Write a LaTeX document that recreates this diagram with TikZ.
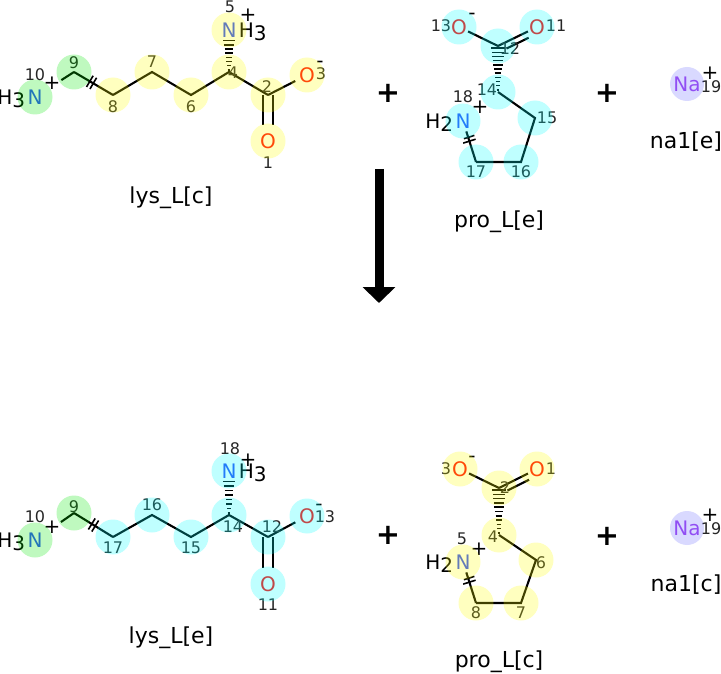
\documentclass[tikz,border=0pt]{standalone}
\usepackage{fontspec}
\setmainfont{DejaVu Sans}
\usetikzlibrary{positioning,calc,arrows.meta,decorations.markings}

\definecolor{nblue}{RGB}{48,80,248}
\definecolor{ored}{RGB}{255,13,13}
\definecolor{napurple}{RGB}{171,92,242}
\definecolor{hlyellow}{RGB}{255,255,0}
\definecolor{hlcyan}{RGB}{0,255,255}
\definecolor{hlgreen}{RGB}{0,230,0}
\definecolor{hlblue}{RGB}{0,0,255}

\newcommand\atomfont{\fontsize{20}{24}\selectfont}
\newcommand\numfont{\fontsize{16}{19}\selectfont}
\newcommand\capfont{\fontsize{22}{26}\selectfont}
\newcommand\bigplusfont{\fontsize{29}{34}\selectfont\bfseries}

% hashed wedge: narrow end, wide end, half width, number of hashes
\newcommand\hashbond[4]{%
  \foreach \i in {1,...,#4} {
    \pgfmathsetmacro\hpos{(\i-0.5)/#4}
    \pgfmathsetmacro\hw{1+(#3-1)*\hpos}
    \draw[hash] ($(#1)!\hpos!(#2)!\hw pt!90:(#2)$) -- ($(#1)!\hpos!(#2)!\hw pt!-90:(#2)$);
  }}

\tikzset{
  bond/.style={line width=2.1pt},
  hash/.style={line width=1.5pt},
  atom/.style={inner sep=1pt, font=\atomfont},
  hyd/.style={inner sep=1pt, font=\atomfont},
  charge/.style={inner sep=0pt, font=\atomfont},
  num/.style={inner sep=0pt, font=\numfont, text=black!85},
  caption/.style={inner sep=0pt, font=\capfont},
  bigplus/.style={inner sep=0pt, font=\bigplusfont},
  hl/.style={fill=#1, fill opacity=0.25},
  cutmark/.style={postaction=decorate, decoration={markings,
    mark=at position #1 with {\draw[line width=1.6pt] (-2pt,-6.5pt) -- (-2pt,6.5pt) (2pt,-6.5pt) -- (2pt,6.5pt);}}},
  reaction/.style={line width=9pt, -{Triangle[width=32pt,length=16pt]}},
}

\begin{document}
\begin{tikzpicture}[x=1pt,y=-1pt]
    \useasboundingbox (0,0) rectangle (721,674);

    % lys_L[c]
    \coordinate (lc9) at (74,72);
    \coordinate (lc8) at (113,95);
    \coordinate (lc7) at (152,72);
    \coordinate (lc6) at (191,95);
    \coordinate (lc4) at (229,72);
    \coordinate (lc2) at (268,95);
    \node[atom, text=nblue] (lc10) at (35,97) {N};
    \node[hyd, base left=0pt of lc10] (lc10h) {H\raisebox{-3.5pt}{3}};
    \node[atom, text=nblue] (lc5) at (229,30) {N};
    \node[hyd, base right=0pt of lc5] (lc5h) {H\raisebox{-3.5pt}{3}};
    \node[atom, text=ored] (lc3) at (307,75) {O};
    \node[atom, text=ored] (lc1) at (268,141) {O};
    \draw[bond, double, double distance=8pt, shorten >=7pt] (lc2) -- (lc1);
    \draw[bond, shorten >=21pt] (lc9) -- (lc10);
    \draw[bond, cutmark=0.45] (lc9) -- (lc8);
    \draw[bond] (lc8) -- (lc7) -- (lc6) -- (lc4) -- (lc2);
    \draw[bond, shorten >=3pt] (lc2) -- (lc3);
    \hashbond{lc4}{lc5.south}{6}{8}
    \foreach \n/\x/\y in {10/35/75, 9/74/63, 8/113/107, 7/152/62, 6/191/107,
                          4/233/73, 5/230/7, 2/267/87, 3/321/74, 1/268/163}
        \node[num] (lcn\n) at (\x,\y) {\n};
    \node[charge] (lc10c) at (52,83) {+};
    \node[charge] (lc5c) at (248,15) {+};
    \node[charge] (lc3c) at (320,64) {-};
    \node[caption] (lcname) at (171,198) {lys\_L[c]};

    % pro_L[e]
    \coordinate (pe12) at (498,46);
    \coordinate (pe14) at (498,92);
    \coordinate (pe15) at (535,118);
    \coordinate (pe16) at (521,162);
    \coordinate (pe17) at (476,162);
    \node[atom, text=ored] (pe13) at (459,27) {O};
    \node[atom, text=ored] (pe11) at (537,27) {O};
    \node[atom, text=nblue] (pe18) at (463,121) {N};
    \node[hyd, base left=0pt of pe18] (pe18h) {H\raisebox{-3.5pt}{2}};
    \draw[bond] (pe12) -- (pe13);
    \draw[bond] (pe12) -- (pe11);
    \draw[bond] ($(pe12)!0.15!(pe11)!6pt!-90:(pe11)$) -- ($(pe12)!0.72!(pe11)!6pt!-90:(pe11)$);
    \hashbond{pe14}{pe12}{7}{11}
    \draw[bond] (pe14) -- (pe15) -- (pe16) -- (pe17);
    \draw[bond, cutmark=0.7, shorten >=2pt] (pe17) -- (pe18);
    \foreach \n/\x/\y in {13/441/26, 11/556/26, 12/510/49, 14/487/90,
                          18/463/97, 15/547/118, 16/521/172, 17/476/172}
        \node[num] (pen\n) at (\x,\y) {\n};
    \node[charge] (pe13c) at (472,16) {-};
    \node[charge] (pe18c) at (480,107) {+};
    \node[caption] (pename) at (499,222) {pro\_L[e]};

    % na1[e]
    \node[atom, text=napurple] (nae) at (687,84) {Na};
    \node[charge] (naec) at (710,73) {+};
    \node[num] (naen) at (711,87) {19};
    \node[caption] (naename) at (686,142) {na1[e]};

    \node[bigplus] (plusa) at (388,93) {+};
    \node[bigplus] (plusb) at (607,93) {+};

    % reaction arrow
    \coordinate (arrtop) at (379,169);
    \coordinate (arrbot) at (379,303);
    \draw[reaction] (arrtop) -- (arrbot);

    % lys_L[e]
    \coordinate (le9) at (74,513);
    \coordinate (le17) at (113,537);
    \coordinate (le16) at (152,515);
    \coordinate (le15) at (191,537);
    \coordinate (le14) at (229,515);
    \coordinate (le12) at (268,537);
    \node[atom, text=nblue] (le10) at (35,540) {N};
    \node[hyd, base left=0pt of le10] (le10h) {H\raisebox{-3.5pt}{3}};
    \node[atom, text=nblue] (le18) at (229,471) {N};
    \node[hyd, base right=0pt of le18] (le18h) {H\raisebox{-3.5pt}{3}};
    \node[atom, text=ored] (le13) at (307,516) {O};
    \node[atom, text=ored] (le11) at (268,584) {O};
    \draw[bond, double, double distance=8pt, shorten >=7pt] (le12) -- (le11);
    \draw[bond, shorten >=21pt] (le9) -- (le10);
    \draw[bond, cutmark=0.5] (le9) -- (le17);
    \draw[bond] (le17) -- (le16) -- (le15) -- (le14) -- (le12);
    \draw[bond, shorten >=3pt] (le12) -- (le13);
    \hashbond{le14}{le18.south}{6}{8}
    \foreach \n/\x/\y in {10/35/517, 9/74/507, 17/113/548, 16/152/505, 15/191/548,
                          14/233/527, 18/230/449, 12/272/527, 13/325/517, 11/268/605}
        \node[num] (len\n) at (\x,\y) {\n};
    \node[charge] (le10c) at (52,527) {+};
    \node[charge] (le18c) at (248,460) {+};
    \node[charge] (le13c) at (319,507) {-};
    \node[caption] (lename) at (171,638) {lys\_L[e]};

    % pro_L[c]
    \coordinate (pc2) at (499,488);
    \coordinate (pc4) at (499,535);
    \coordinate (pc6) at (536,560);
    \coordinate (pc7) at (521,603);
    \coordinate (pc8) at (476,603);
    \node[atom, text=ored] (pc3) at (460,469) {O};
    \node[atom, text=ored] (pc1) at (537,469) {O};
    \node[atom, text=nblue] (pc5) at (463,562) {N};
    \node[hyd, base left=0pt of pc5] (pc5h) {H\raisebox{-3.5pt}{2}};
    \draw[bond] (pc2) -- (pc3);
    \draw[bond] (pc2) -- (pc1);
    \draw[bond] ($(pc2)!0.15!(pc1)!6pt!-90:(pc1)$) -- ($(pc2)!0.72!(pc1)!6pt!-90:(pc1)$);
    \hashbond{pc4}{pc2}{7}{11}
    \draw[bond] (pc4) -- (pc6) -- (pc7) -- (pc8);
    \draw[bond, cutmark=0.7, shorten >=2pt] (pc8) -- (pc5);
    \foreach \n/\x/\y in {3/446/469, 1/551/469, 2/505/488, 4/493/537,
                          5/462/539, 6/541/563, 7/521/613, 8/476/613}
        \node[num] (pcn\n) at (\x,\y) {\n};
    \node[charge] (pc3c) at (472,459) {-};
    \node[charge] (pc5c) at (479,549) {+};
    \node[caption] (pcname) at (499,662) {pro\_L[c]};

    % na1[c]
    \node[atom, text=napurple] (nac) at (687,528) {Na};
    \node[charge] (nacc) at (710,515) {+};
    \node[num] (nacn) at (711,529) {19};
    \node[caption] (nacname) at (686,585) {na1[c]};

    \node[bigplus] (plusc) at (388,535) {+};
    \node[bigplus] (plusd) at (607,536) {+};

    % highlights
    \foreach \a in {lc10, lc9, le10, le9}
        \fill[hl=hlgreen] (\a) circle[radius=17.5pt];
    \foreach \a in {lc8, lc7, lc6, lc4, lc5, lc2, lc3, lc1, pc1, pc2, pc3, pc4, pc5, pc6, pc7, pc8}
        \fill[hl=hlyellow] (\a) circle[radius=17.5pt];
    \foreach \a in {pe11, pe12, pe13, pe14, pe15, pe16, pe17, pe18,
                    le17, le16, le15, le14, le18, le12, le13, le11}
        \fill[hl=hlcyan] (\a) circle[radius=17.5pt];
    \foreach \a in {nae, nac}
        \fill[fill=hlblue, fill opacity=0.15] (\a) circle[radius=17pt];
\end{tikzpicture}
\end{document}
